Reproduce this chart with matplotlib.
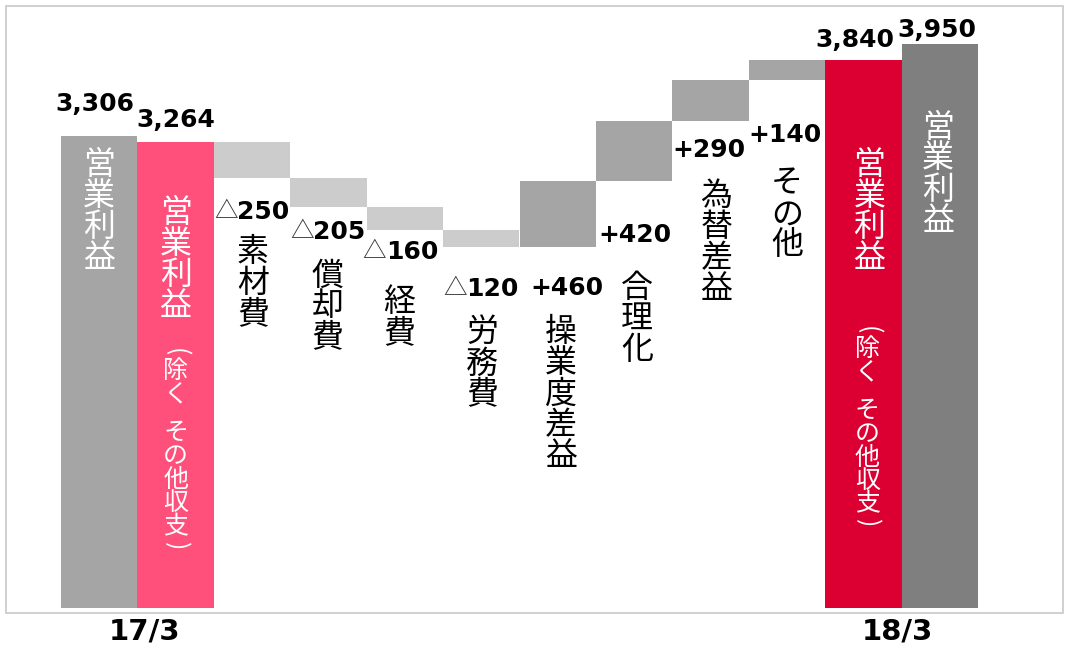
import numpy as np
import matplotlib
matplotlib.use("Agg")
import matplotlib.pyplot as plt
from matplotlib.patches import Rectangle

# ---------------------------------------------------------------- data
period_labels = ["17/3", "18/3"]
start_total = 3306          # 17/3 営業利益
start_core = 3264           # 17/3 営業利益（除く その他収支）
step_names = ["素材費", "償却費", "経費", "労務費", "操業度差益", "合理化", "為替差益", "その他"]
step_values = [-250, -205, -160, -120, 460, 420, 290, 140]
end_core = 3840             # 18/3 営業利益（除く その他収支）
end_total = 3950            # 18/3 営業利益
bar_title = "営業利益"
bar_subtitle = "（除く その他収支）"

# ---------------------------------------------------------------- layout (pixels)
# delta label: x shift from bar left edge, y centre below bar bottom
delta_dx = [0, 0, -4, 0, 11, 2, 0, 0]
delta_dy = [34, 25, 22, 42, 41, 54, 29, 55]
# category label: x shift from bar centre, top of first char below bar bottom
cat_dx = [1, -1, -6, 1, 3, 3, 6, 0]
cat_dy = [59, 53, 57, 70, 70, 91, 59, 88]

C_START = "#A5A5A5"
C_CORE17 = "#FF4F7B"
C_NEG = "#CCCCCC"
C_POS = "#A5A5A5"
C_CORE18 = "#DC0032"
C_END = "#7F7F7F"

JP = ["Noto Sans CJK JP", "DejaVu Sans"]
NUM = "DejaVu Sans"
PX = 0.72  # points per pixel at dpi 100
BRACKETS = {"（": "(", "）": ")"}  # drawn turned for vertical writing
NARROW = "（） "  # chars that take a shorter vertical advance

W, H = 1066, 649
fig = plt.figure(figsize=(W / 100, H / 100), dpi=100)
fig.patches.append(Rectangle((6 / W, 1 - 613 / H), 1057 / W, 607 / H,
                             transform=fig.transFigure, fill=False,
                             edgecolor="#C8C8C8", lw=1.2))
ax = fig.add_axes([61 / W, 1 - 608 / H, 917 / W, 564 / H])
ax.set_xlim(-0.5, 11.5)
ax.set_ylim(0, end_total)
ax.axis("off")

# waterfall geometry
steps = np.array(step_values)
ends = start_core + np.cumsum(steps)
begins = ends - steps
lows = np.minimum(begins, ends)
heights = np.abs(steps)
xs_steps = np.arange(2, 2 + len(steps))

ax.bar([0], [start_total], width=1.0, color=C_START)
ax.bar([1], [start_core], width=1.0, color=C_CORE17)
ax.bar(xs_steps, heights, bottom=lows, width=1.0,
       color=[C_NEG if v < 0 else C_POS for v in step_values])
ax.bar([10], [end_core], width=1.0, color=C_CORE18)
ax.bar([11], [end_total], width=1.0, color=C_END)


def at(x, y, s, dx, dy, **kw):
    """Text at data point (x, y) shifted by (dx, dy) pixels (dy down)."""
    return ax.annotate(s, (x, y), xytext=(dx * PX, -dy * PX),
                       textcoords="offset points", annotation_clip=False, **kw)


def vtext(x, y, s, dx, top, pitch, size, color):
    pos = top
    for ch in s:
        adv = pitch * (0.62 if ch in NARROW else 1.0)
        if ch in BRACKETS:
            at(x, y, BRACKETS[ch], dx, pos + adv / 2, ha="center", va="center",
               fontsize=size, color=color, family=JP, rotation=-90)
        elif ch != " ":
            at(x, y, ch, dx, pos + adv / 2, ha="center", va="center",
               fontsize=size, color=color, family=JP)
        pos += adv


# totals: value labels above bars
tot_x = [0, 1, 10, 11]
tot_v = [start_total, start_core, end_core, end_total]
tot_dx = [-4, 0, -8, -3]
tot_dy = [-32, -22, -20, -14]
for x, v, dx, dy in zip(tot_x, tot_v, tot_dx, tot_dy):
    at(x, v, f"{v:,}", dx, dy, ha="center", va="center", fontsize=18,
       fontweight="bold", family=NUM, color="black")

# in-bar captions
vtext(0, start_total, bar_title, 0, 14, 31, 23, "white")
vtext(1, start_core, bar_title, 0, 56, 31, 23, "white")
vtext(1, start_core, bar_subtitle, 0, 203, 23.5, 18, "white")
vtext(10, end_core, bar_title, 6, 90, 31, 23, "white")
vtext(10, end_core, bar_subtitle, 4, 263, 23.5, 18, "white")
vtext(11, end_total, bar_title, -2, 68, 31, 23, "white")

# step labels
for i, (x, v, lo) in enumerate(zip(xs_steps, step_values, lows)):
    left = x - 0.5
    if v < 0:
        at(left, lo, "△", delta_dx[i], delta_dy[i], ha="left", va="center",
           fontsize=17, family=JP, color="#333333")
        at(left, lo, f"{abs(v)}", delta_dx[i] + 23, delta_dy[i], ha="left",
           va="center", fontsize=18, fontweight="bold", family=NUM, color="black")
    else:
        at(left, lo, f"+{v}", delta_dx[i], delta_dy[i], ha="left", va="center",
           fontsize=18, fontweight="bold", family=NUM, color="black")
    vtext(x, lo, step_names[i], cat_dx[i], cat_dy[i], 31, 23, "black")

# period labels
for x, s, dx in zip([0.5, 10.5], period_labels, [7, -4]):
    at(x, 0, s, dx, 23, ha="center", va="center", fontsize=21,
       fontweight="bold", family=NUM, color="black")

fig.savefig("out.png", dpi=100)
